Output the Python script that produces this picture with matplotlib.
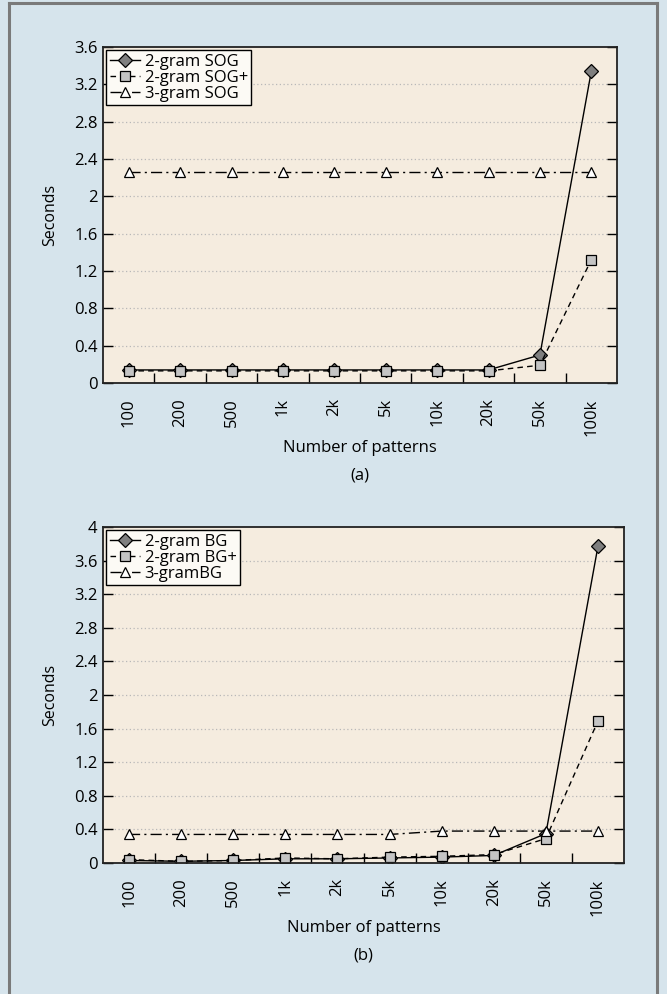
import matplotlib
matplotlib.use("Agg")
import matplotlib.pyplot as plt
from matplotlib.lines import Line2D

plt.rcParams['font.family'] = ['Open Sans', 'DejaVu Sans']

patterns = ["100", "200", "500", "1k", "2k", "5k", "10k", "20k", "50k", "100k"]

# (a) SOG timings
sog2 = [0.14, 0.14, 0.14, 0.14, 0.14, 0.14, 0.14, 0.14, 0.30, 3.34]
sog2_plus = [0.13, 0.13, 0.13, 0.13, 0.13, 0.13, 0.13, 0.13, 0.19, 1.32]
sog3 = [2.26, 2.26, 2.26, 2.26, 2.26, 2.26, 2.26, 2.26, 2.26, 2.26]

# (b) BG timings
bg2 = [0.03, 0.02, 0.03, 0.05, 0.05, 0.06, 0.07, 0.09, 0.35, 3.77]
bg2_plus = [0.04, 0.02, 0.03, 0.06, 0.05, 0.07, 0.08, 0.10, 0.29, 1.69]
bg3 = [0.34, 0.34, 0.34, 0.34, 0.34, 0.34, 0.38, 0.38, 0.38, 0.38]

BG = "#d6e4ec"
AX_BG = "#f5ecdf"

W, H = 667, 994
fig = plt.figure(figsize=(W / 100, H / 100), dpi=100, facecolor=BG)


def draw_panel(rect, series, labels, ymax, caption):
    ax = fig.add_axes([rect[0] / W, 1 - rect[3] / H, (rect[2] - rect[0]) / W,
                       (rect[3] - rect[1]) / H])
    ax.set_facecolor(AX_BG)
    x = range(len(patterns))
    styles = [
        dict(ls="-", marker="D", mfc="#7f7f7f", ms=7.5),
        dict(ls=(0, (4, 3)), marker="s", mfc="#c4c4c4", ms=7),
        dict(ls=(0, (8, 3, 1.5, 3)), marker="^", mfc="white", ms=7.5),
    ]
    for ys, lab, st in zip(series, labels, styles):
        ax.plot(x, ys, color="black", lw=1.0, mec="black", mew=0.9,
                label=lab, **st)
    ax.set_xlim(-0.5, len(patterns) - 0.5)
    ax.set_ylim(0, ymax)
    yt = [round(0.4 * i, 1) for i in range(int(round(ymax / 0.4)) + 1)]
    ax.set_yticks(yt)
    ax.set_yticklabels([("%g" % v) for v in yt], fontsize=12)
    ax.set_xticks(list(x))
    ax.set_xticklabels(patterns, rotation=90, fontsize=12)
    ax.tick_params(axis="x", length=0, pad=11)
    ax.set_xticks([i + 0.5 for i in range(len(patterns) - 1)], minor=True)
    ax.tick_params(axis="x", which="minor", direction="in", length=7, width=1)
    ax.tick_params(axis="y", direction="in", length=7, width=1, right=True,
                   pad=4)
    for v in yt[1:-1]:
        ax.axhline(v, color="#b8b8b8", lw=0.9, ls=(0, (1, 2)), zorder=0)
    for s in ax.spines.values():
        s.set_linewidth(1.3)
        s.set_color("#222222")
    ax.set_ylabel("Seconds", fontsize=11.5, labelpad=11)
    ax.set_xlabel("Number of patterns", fontsize=12, labelpad=3)
    leg = ax.legend(loc="upper left", fontsize=12, handlelength=1.8,
                    handletextpad=0.3, borderpad=0.2, labelspacing=0.0,
                    borderaxespad=0.2, fancybox=False, framealpha=1)
    leg.get_frame().set_edgecolor("black")
    leg.get_frame().set_facecolor("#fcfaf5")
    leg.get_frame().set_linewidth(1.0)
    fig.text((rect[0] + rect[2]) / 2 / W, 1 - caption / H, rect[4],
             ha="center", va="center", fontsize=12)


draw_panel((103, 47, 617, 383, "(a)"), [sog2, sog2_plus, sog3],
           ["2-gram SOG", "2-gram SOG+", "3-gram SOG"], 3.6, 475)
draw_panel((103, 527, 624, 863, "(b)"), [bg2, bg2_plus, bg3],
           ["2-gram BG", "2-gram BG+", "3-gramBG"], 4.0, 955)

# page frame, open at the bottom
frame = dict(color="#7a7a7a", lw=2.2, transform=fig.transFigure)
fig.add_artist(Line2D([9 / W, 9 / W], [0, 1 - 3 / H], **frame))
fig.add_artist(Line2D([657 / W, 657 / W], [0, 1 - 3 / H], **frame))
fig.add_artist(Line2D([9 / W, 657 / W], [1 - 3 / H, 1 - 3 / H], **frame))

fig.savefig("out.png", dpi=100, facecolor=BG)
